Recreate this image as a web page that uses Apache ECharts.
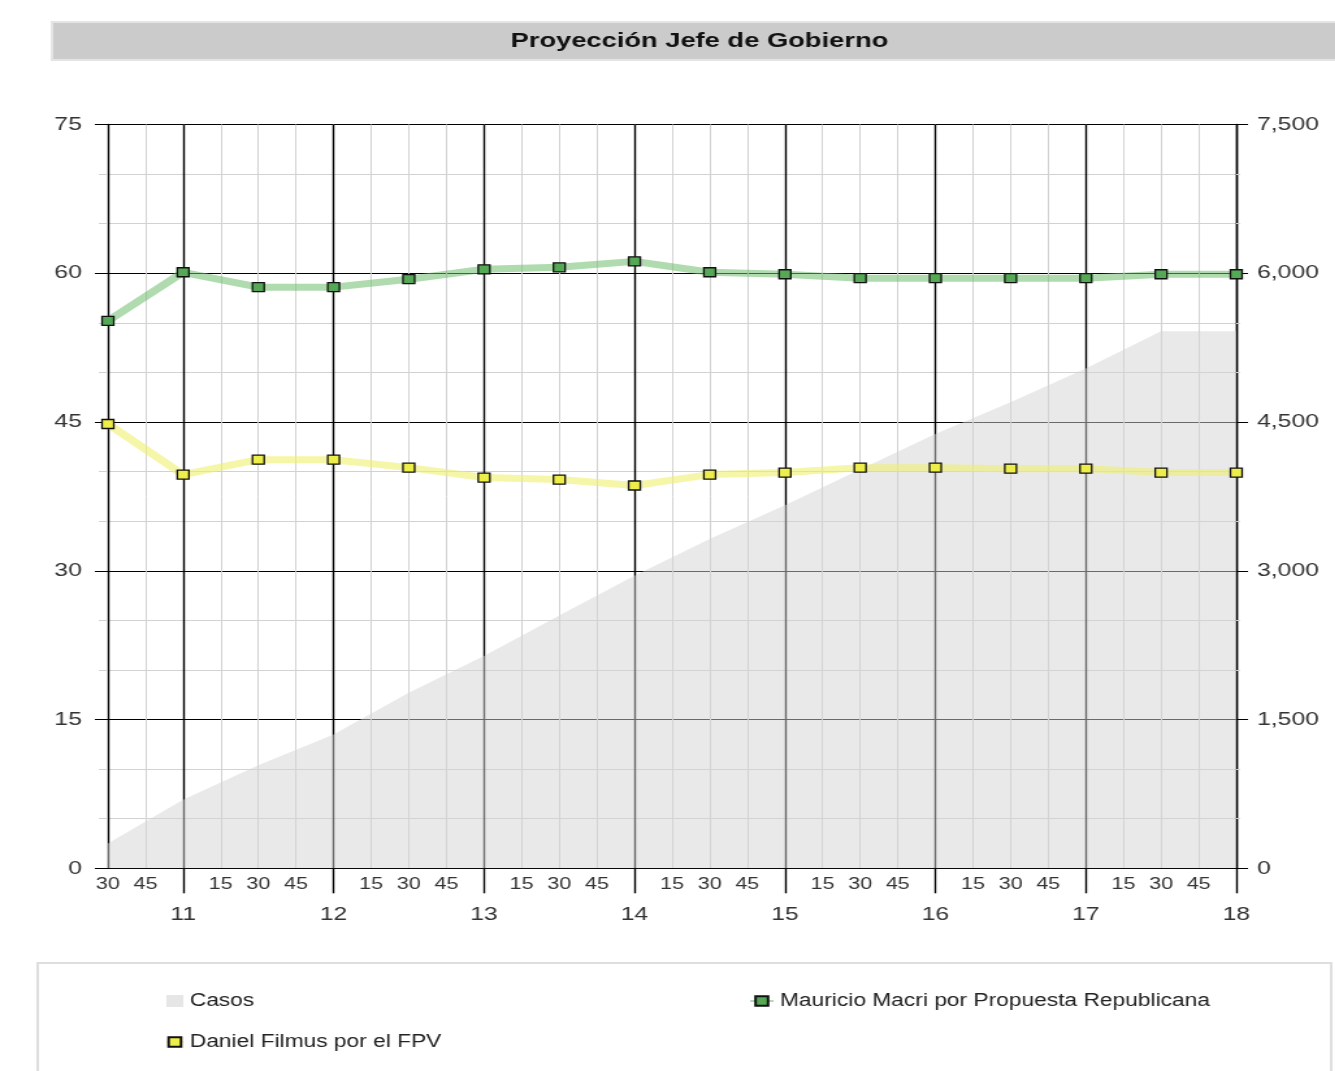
<!DOCTYPE html>
<html>
<head>
<meta charset="utf-8">
<title>Proyección Jefe de Gobierno</title>
<script src="https://cdn.jsdelivr.net/npm/echarts@6/dist/echarts.min.js"></script>
<style>
  html, body { margin: 0; padding: 0; background: #fff; overflow: hidden; }
  /* the source picture is stretched sideways, so draw narrower and widen it */
  #chart { width: 1027px; height: 1071px; transform: scaleX(1.3); transform-origin: 0 0; }
</style>
</head>
<body>
<div id="chart"></div>
<script>
const FONT = "'Liberation Sans', Arial, sans-serif";

// hour of day for every sample (10:30 .. 18:00)
const hours = [10.5, 11, 11.5, 12, 12.5, 13, 13.5, 14, 14.5, 15, 15.5, 16, 16.5, 17, 17.5, 18];
const casos = [250, 690, 1040, 1350, 1770, 2140, 2550, 2950, 3320, 3660, 4020, 4380, 4700, 5040, 5415, 5415];
const macri = [55.2, 60.1, 58.6, 58.6, 59.4, 60.4, 60.6, 61.2, 60.1, 59.9, 59.5, 59.5, 59.5, 59.5, 59.9, 59.9];
const filmus = [44.8, 39.7, 41.2, 41.2, 40.4, 39.4, 39.2, 38.6, 39.7, 39.9, 40.4, 40.4, 40.3, 40.3, 39.9, 39.9];
const hourTicks = [11, 12, 13, 14, 15, 16, 17, 18];

const names = {
  casos: "Casos",
  macri: "Mauricio Macri por Propuesta Republicana",
  filmus: "Daniel Filmus por el FPV",
};

const pairs = (values) => values.map((v, i) => [hours[i], v]);

const minuteLabel = (v) => {
  const m = Math.round((v % 1) * 60);
  return m === 0 ? "" : String(m);
};

const chart = echarts.init(document.getElementById("chart"));
chart.setOption({
  animation: false,
  backgroundColor: "#fff",
  textStyle: { fontFamily: FONT },
  title: {
    text: "Proyección Jefe de Gobierno",
    left: 538,
    top: 31,
    padding: 0,
    textAlign: "center",
    textStyle: { fontFamily: FONT, fontSize: 21, fontWeight: "bold", color: "#111" },
  },
  graphic: [
    {
      type: "rect",
      z: -10,
      shape: { x: 40, y: 22, width: 1000, height: 38 },
      style: { fill: "#cbcbcb", stroke: "#e4e4e4", lineWidth: 2 },
    },
    {
      type: "rect",
      z: -10,
      shape: { x: 29, y: 963, width: 995, height: 140 },
      style: { fill: "none", stroke: "#dedede", lineWidth: 2 },
    },
  ],
  legend: [
    {
      left: 122,
      top: 986,
      orient: "vertical",
      itemWidth: 13,
      itemHeight: 12,
      itemGap: 21,
      textStyle: { fontFamily: FONT, fontSize: 17.5, color: "#222", lineHeight: 20 },
      data: [
        { name: names.casos, icon: "rect", itemStyle: { color: "#e6e6e6" } },
        names.filmus,
      ],
    },
    {
      left: 571,
      top: 986,
      itemWidth: 18,
      itemHeight: 12,
      textStyle: { fontFamily: FONT, fontSize: 17.5, color: "#222", lineHeight: 20 },
      data: [names.macri],
    },
  ],
  grid: { left: 83, right: 76, top: 124.5, bottom: 202.7 },
  xAxis: [
    {
      // quarter-hour grid and minute labels
      type: "value",
      position: "bottom",
      min: 10.5,
      max: 18,
      interval: 0.25,
      axisLine: { show: false },
      axisTick: { show: false },
      axisLabel: { formatter: minuteLabel, margin: 8, fontSize: 16.5, color: "#333", fontFamily: FONT },
      splitLine: { show: true, lineStyle: { color: "#d2d2d2", width: 1 } },
    },
    {
      // hour grid and hour labels
      type: "value",
      position: "bottom",
      min: 10.5,
      max: 18,
      axisLine: { show: true, lineStyle: { color: "#000", width: 1 } },
      axisTick: { show: true, customValues: hourTicks, length: 25, lineStyle: { color: "#000", width: 1.4 } },
      axisLabel: { customValues: hourTicks, margin: 37, fontSize: 19, color: "#333", fontFamily: FONT },
      splitLine: { show: true, lineStyle: { color: "#000", width: 1.4 } },
    },
  ],
  yAxis: [
    {
      type: "value",
      position: "left",
      min: 0,
      max: 75,
      interval: 15,
      axisLine: { show: true, lineStyle: { color: "#000", width: 1.4 } },
      axisTick: { show: true, length: 10, lineStyle: { color: "#000" } },
      minorTick: { show: true, splitNumber: 3, length: 7, lineStyle: { color: "#d2d2d2" } },
      minorSplitLine: { show: true, lineStyle: { color: "#d2d2d2" } },
      splitLine: { show: true, lineStyle: { color: "#000" } },
      axisLabel: { margin: 20, fontSize: 19, color: "#333", fontFamily: FONT },
    },
    {
      type: "value",
      position: "right",
      min: 0,
      max: 7500,
      interval: 1500,
      axisLine: { show: true, lineStyle: { color: "#000", width: 1.4 } },
      axisTick: { show: true, length: 9, lineStyle: { color: "#000" } },
      minorTick: { show: true, splitNumber: 3, length: 3, lineStyle: { color: "#d2d2d2" } },
      splitLine: { show: false },
      axisLabel: { margin: 16, fontSize: 19, color: "#333", fontFamily: FONT },
    },
  ],
  series: [
    {
      name: names.casos,
      type: "line",
      xAxisIndex: 1,
      yAxisIndex: 1,
      data: pairs(casos),
      showSymbol: false,
      symbol: "none",
      lineStyle: { width: 0 },
      itemStyle: { color: "#e6e6e6" },
      areaStyle: { color: "rgba(212,212,212,0.5)", opacity: 1 },
    },
    {
      name: names.macri,
      type: "line",
      xAxisIndex: 1,
      yAxisIndex: 0,
      data: pairs(macri),
      symbol: "rect",
      symbolSize: 9,
      lineStyle: { width: 7, color: "rgba(110,190,110,0.55)" },
      itemStyle: { color: "#55a855", borderColor: "#111", borderWidth: 1.3 },
    },
    {
      name: names.filmus,
      type: "line",
      xAxisIndex: 1,
      yAxisIndex: 0,
      data: pairs(filmus),
      symbol: "rect",
      symbolSize: 9,
      lineStyle: { width: 7, color: "rgba(240,240,110,0.6)" },
      itemStyle: { color: "#eeee4a", borderColor: "#111", borderWidth: 1.3 },
    },
  ],
});
</script>
</body>
</html>
